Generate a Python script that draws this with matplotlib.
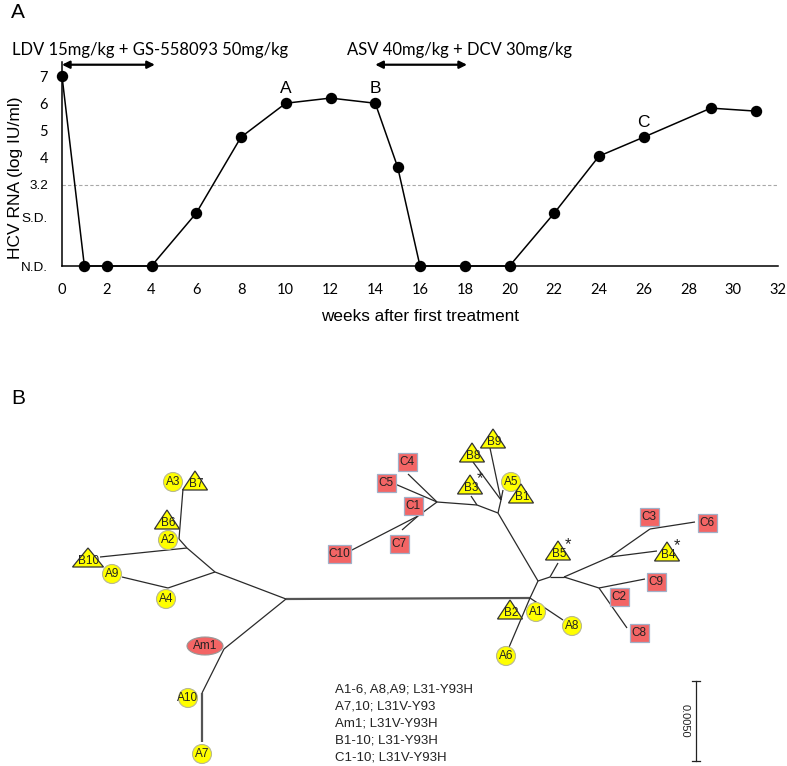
import matplotlib
matplotlib.use("Agg")
import matplotlib.pyplot as plt
from matplotlib.patches import Circle, Ellipse, Rectangle, Polygon

# ---------------- Panel A data ----------------
weeks = [0, 1, 2, 4, 6, 8, 10, 12, 14, 15, 16, 18, 20, 22, 24, 26, 29, 31]
rna = [7.0, 0, 0, 0, 1.95, 4.75, 6.0, 6.19, 6.0, 3.65, 0, 0, 0, 1.95, 4.05, 4.75, 5.82, 5.71]
xticks = list(range(0, 33, 2))
ytick_pos = [0, 1.8, 3.0, 4, 5, 6, 7]
ytick_labels = ["N.D.", "S.D.", "3.2", "4", "5", "6", "7"]
sample_labels = ["A", "B", "C"]
sample_weeks = [10, 14, 26]
treatments = ["LDV 15mg/kg + GS-558093 50mg/kg", "ASV 40mg/kg + DCV 30mg/kg"]
treat_start = [0, 14]
treat_end = [4.15, 18.1]

# ---------------- Panel B data (tree layout, pixel units) ----------------
nodes = {
    "Lroot": (286, 599), "Rroot": (530, 598),
    "L1": (215, 572), "L2": (187, 548), "L3": (179, 539), "L4": (168, 588),
    "tB7": (183, 489), "tB10": (100, 557), "tA9": (122, 577),
    "Am": (224, 649), "A10n": (202, 693), "tA7": (202, 742),
    "R1": (538, 581), "tA6": (507, 652), "tA8": (563, 620),
    "R2": (498, 513), "R9": (501, 500), "tB9": (490, 448), "tB8": (473, 462), "tA5": (503, 490),
    "R10": (477, 505), "tB3": (471, 496), "R11": (437, 502),
    "tC4": (408, 474), "tC5": (395, 484), "R12": (418, 516), "tC10": (350, 551), "tC7": (402, 530),
    "R3": (550, 577), "tB5": (558, 563), "R4": (564, 577),
    "R5": (610, 557), "R6": (650, 529), "tC6": (695, 522), "tB4": (657, 551),
    "R7": (599, 588), "tC9": (645, 579), "tC8": (627, 628),
}
edges = [
    ("Lroot", "Rroot"), ("Lroot", "L1"), ("Lroot", "Am"), ("Am", "A10n"), ("A10n", "tA7"),
    ("L1", "L2"), ("L1", "L4"), ("L4", "tA9"), ("L2", "tB10"), ("L2", "L3"), ("L3", "tB7"),
    ("Rroot", "tA6"), ("Rroot", "tA8"), ("Rroot", "R1"),
    ("R1", "R2"), ("R2", "R9"), ("R9", "tB9"), ("R9", "tB8"), ("R9", "tA5"),
    ("R2", "R10"), ("R10", "tB3"), ("R10", "R11"), ("R11", "tC4"), ("R11", "tC5"),
    ("R11", "R12"), ("R12", "tC10"), ("R12", "tC7"),
    ("R1", "R3"), ("R3", "tB5"), ("R3", "R4"), ("R4", "R5"), ("R5", "R6"), ("R6", "tC6"),
    ("R5", "tB4"), ("R4", "R7"), ("R7", "tC9"), ("R7", "tC8"),
]
circle_names = ["A1", "A2", "A3", "A4", "A5", "A6", "A7", "A8", "A9", "A10"]
circle_x = [536, 168, 173, 166, 511, 506, 202, 572, 112, 188]
circle_y = [612, 540, 482, 599, 482, 656, 754, 626, 574, 698]
tri_names = ["B1", "B2", "B3", "B4", "B5", "B6", "B7", "B8", "B9", "B10"]
tri_x = [521, 510, 470, 667, 558, 167, 195, 472, 493, 88]
tri_y = [497, 613, 488, 555, 554, 523, 484, 456, 442, 561]
starred = ["B3", "B4", "B5"]
box_names = ["C1", "C2", "C3", "C4", "C5", "C6", "C7", "C8", "C9", "C10"]
box_x = [413, 619, 649, 407, 386, 707, 399, 639, 656, 339]
box_y = [506, 597, 517, 462, 483, 523, 544, 633, 582, 554]
ellipse_name = "Am1"
ellipse_xy = (205, 646)
legend_lines = ["A1-6, A8,A9; L31-Y93H", "A7,10; L31V-Y93", "Am1; L31V-Y93H",
                "B1-10; L31-Y93H", "C1-10; L31V-Y93H"]
scale_label = "0.0050"

ARIAL = "Liberation Sans"
CAL = "Lato"

W, H = 787, 766
fig = plt.figure(figsize=(W / 100, H / 100), dpi=100)

# ---------------- Panel A ----------------
ax = fig.add_axes([62 / W, 1 - 266 / H, (778 - 62) / W, (266 - 62) / H])
ax.set_xlim(0, 32)
ax.set_ylim(0, 7.52)
for s in ["top", "right"]:
    ax.spines[s].set_visible(False)
for s in ["left", "bottom"]:
    ax.spines[s].set_linewidth(1.1)
ax.plot(weeks, rna, color="black", lw=1.1, marker="o", ms=7.2, clip_on=False, zorder=3)
ax.axhline(ytick_pos[2], color="#a8a8a8", lw=0.8, ls=(0, (3, 2)), zorder=1)
ax.set_xticks(xticks)
ax.set_xticklabels([str(t) for t in xticks], fontfamily=CAL, fontsize=10.5)
ax.set_yticks(ytick_pos)
ax.set_yticklabels(ytick_labels)
for lab, txt in zip(ax.get_yticklabels(), ytick_labels):
    if txt[0].isdigit() and txt != "3.2":
        lab.set_fontfamily(CAL)
        lab.set_fontsize(10.5)
    else:
        lab.set_fontfamily(ARIAL)
        lab.set_fontsize(9.7)
ax.tick_params(axis="both", length=0)
ax.tick_params(axis="x", pad=12)
ax.tick_params(axis="y", pad=10)
ax.set_xlabel("weeks after first treatment", fontfamily=ARIAL, fontsize=12.3, labelpad=9)
ax.set_ylabel("HCV RNA (log IU/ml)", fontfamily=ARIAL, fontsize=12.5)
ax.yaxis.set_label_coords((23 - 62) / 716, (266 - 178) / 204)
for lab, wk in zip(sample_labels, sample_weeks):
    yv = rna[weeks.index(wk)]
    ax.text(wk, yv + 0.28, lab, ha="center", va="bottom", fontfamily=ARIAL, fontsize=12.5)
for txt, s0, s1, xt in zip(treatments, treat_start, treat_end, [-2.24, 12.75]):
    ax.annotate("", xy=(s0, 7.42), xytext=(s1, 7.42), annotation_clip=False,
                arrowprops=dict(arrowstyle="<|-|>", color="black", lw=1.6,
                                mutation_scale=11, shrinkA=0, shrinkB=0))
    ax.text(xt, 7.95, txt, ha="left", va="center", fontfamily=CAL, fontsize=12, clip_on=False)
fig.text(11 / W, 1 - 13 / H, "A", fontfamily=ARIAL, fontsize=15, va="center", ha="left")

# ---------------- Panel B ----------------
top = 380
bx = fig.add_axes([0, 0, 1, (H - top) / H])
bx.set_xlim(0, W)
bx.set_ylim(H, top)
bx.axis("off")
fig.text(11 / W, 1 - 398 / H, "B", fontfamily=ARIAL, fontsize=15, va="center", ha="left")

for a, b in edges:
    (x0, y0), (x1, y1) = nodes[a], nodes[b]
    thick = (a, b) in [("A10n", "tA7"), ("Lroot", "Rroot")]
    bx.plot([x0, x1], [y0, y1], color="#555555" if thick else "#2a2a2a",
            lw=1.6 if thick else 0.9, solid_capstyle="butt", zorder=1)

yellow = "#ffff00"
red = "#f36565"
FS = 8.5
for n, x, y in zip(circle_names, circle_x, circle_y):
    bx.add_patch(Circle((x, y), 9.5, facecolor=yellow, edgecolor="#b8b890", lw=0.8, zorder=3))
    bx.text(x, y + 0.5, n, ha="center", va="center", fontfamily=ARIAL, fontsize=FS,
            color="#222222", zorder=4)
for n, x, y in zip(tri_names, tri_x, tri_y):
    hw = 15.5 if len(n) > 2 else 12.5
    pts = [(x, y - 13), (x - hw, y + 6), (x + hw, y + 6)]
    bx.add_patch(Polygon(pts, closed=True, facecolor=yellow, edgecolor="#333333", lw=0.9, zorder=3))
    bx.text(x + 1, y + 0.5, n, ha="center", va="center", fontfamily=ARIAL, fontsize=FS,
            color="#222222", zorder=4)
    if n in starred:
        bx.text(x + 10, y - 9, "*", ha="center", va="center", fontfamily=ARIAL, fontsize=12,
                color="#222222", zorder=4)
for n, x, y in zip(box_names, box_x, box_y):
    w = 23 if len(n) > 2 else 19
    bx.add_patch(Rectangle((x - w / 2, y - 9), w, 18, facecolor=red, edgecolor="#a0b0c8",
                           lw=0.9, zorder=3))
    bx.text(x, y + 0.5, n, ha="center", va="center", fontfamily=ARIAL, fontsize=FS,
            color="#222222", zorder=4)
bx.add_patch(Ellipse(ellipse_xy, 36, 18, facecolor=red, edgecolor="#999999", lw=0.8, zorder=3))
bx.text(ellipse_xy[0], ellipse_xy[1] + 0.5, ellipse_name, ha="center", va="center",
        fontfamily=ARIAL, fontsize=FS, color="#222222", zorder=4)

for i, line in enumerate(legend_lines):
    bx.text(335, 690 + i * 17, line, ha="left", va="center", fontfamily=ARIAL, fontsize=9.5,
            color="#222222")

bx.plot([696, 696], [681, 761], color="#222222", lw=0.9)
bx.plot([692, 700], [681, 681], color="#222222", lw=0.9)
bx.plot([692, 700], [761, 761], color="#222222", lw=0.9)
bx.text(685, 721, scale_label, rotation=-90, ha="center", va="center", fontfamily=ARIAL,
        fontsize=8, color="#222222")

fig.savefig("out.png", dpi=100)
